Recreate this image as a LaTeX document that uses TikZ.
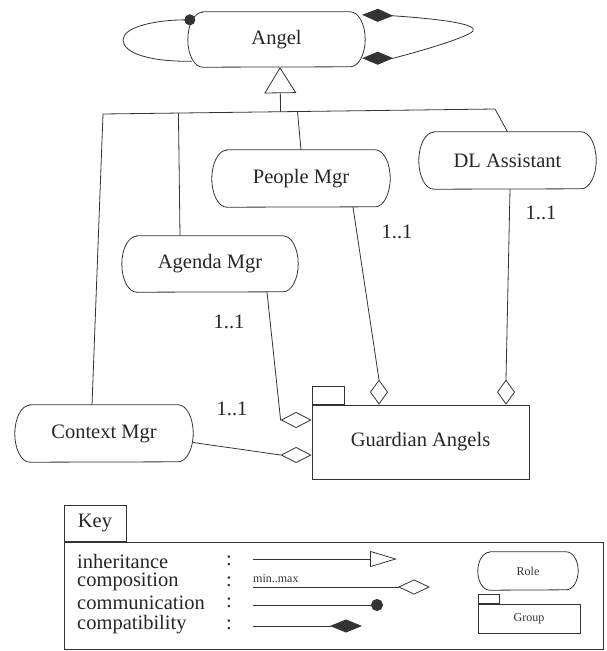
\documentclass[tikz,border=0pt]{standalone}
\usepackage{fontspec}
\setmainfont{Liberation Serif}
\usetikzlibrary{arrows.meta,calc}
\newcommand\roleoutline[3]{%
  \draw[ln] ($(#1.north west)+(#2,0)$) -- ($(#1.north east)+(-#2,0)$)
    arc[start angle=90,end angle=-90,x radius=#2pt,y radius=#3pt]
    -- ($(#1.south west)+(#2,0)$)
    arc[start angle=270,end angle=90,x radius=#2pt,y radius=#3pt] -- cycle;}
\begin{document}
\begin{tikzpicture}[x=1pt,y=-1pt,
  ln/.style={draw=black!80, line width=0.8pt},
  txt/.style={font=\fontsize{20.5}{22}\selectfont, text=black!85},
  tiny/.style={font=\fontsize{12}{13}\selectfont, text=black!80},
  rolenode/.style={txt, inner sep=0pt},
  grpnode/.style={ln, inner sep=0pt},
  opendia/.style={-{Diamond[open,length=#1,width=16pt]}},
]
\useasboundingbox (0,0) rectangle (607,651);

% roles
\node[rolenode, minimum width=177pt, minimum height=55pt] (angel) at (276.5,39.5) {Angel};
\node[rolenode, minimum width=177pt, minimum height=57pt] (dl) at (507.5,160.5) {DL Assistant};
\node[rolenode, minimum width=178pt, minimum height=57pt] (pm) at (301,178.5) {People Mgr};
\node[rolenode, minimum width=176pt, minimum height=56pt] (am) at (210,264) {Agenda Mgr};
\node[rolenode, minimum width=178pt, minimum height=57pt] (cm) at (104,433.5) {Context Mgr};
\roleoutline{angel}{15}{27.5}
\roleoutline{dl}{15}{28.5}
\roleoutline{pm}{15}{28.5}
\roleoutline{am}{15}{28}
\roleoutline{cm}{15}{28.5}

% group
\node[grpnode, txt, draw, minimum width=217pt, minimum height=74pt] (ga) at (420.5,442) {Guardian Angels};
\node[grpnode, draw, minimum width=32pt, minimum height=18pt, anchor=south west] (gatab) at (ga.north west) {};

% inheritance tree
\coordinate (jl) at (103,114);
\coordinate (jr) at (495,109);
\coordinate (amtop) at ($(am.north)+(-30,0)$);
\coordinate (pmj) at ($(pm.north)+(-3,0)$);
\coordinate (angj) at ($(angel.south)+(3.5,0)$);
\draw[ln] ($(cm.north)+(-12,0)$) -- (jl) -- (jr) -- (dl.north);
\draw[ln] (amtop) -- ($(jl)!(amtop)!(jr)$);
\draw[ln] (pm.north) -- ($(jl)!(pmj)!(jr)$);
\draw[ln,-{Triangle[open,length=26pt,width=32pt]}] ($(jl)!(angj)!(jr)$) -- (angj);

% compositions
\draw[ln,-{Diamond[open,length=25pt,width=18pt]}] ($(pm.south)+(52,0)$) -- ($(ga.north)+(-41.5,-25)$) -- ($(ga.north)+(-41.5,0)$);
\draw[ln,-{Diamond[open,length=25pt,width=18pt]}] ($(dl.south)+(2.5,0)$) -- ($(ga.north)+(85.5,-25)$) -- ($(ga.north)+(85.5,0)$);
\draw[ln,opendia=31pt] ($(am.south)+(57,0)$) -- ($(ga.west)+(-31,-22)$) -- ($(ga.west)+(0,-22)$);
\draw[ln,opendia=31pt] ($(cm.east)+(0,9)$) -- ($(ga.west)+(-31,13)$) -- ($(ga.west)+(0,13)$);

% multiplicities
\node[txt] (m1) at (397,232) {1..1};
\node[txt] (m2) at (541,213) {1..1};
\node[txt] (m3) at (229,322) {1..1};
\node[txt] (m4) at (232,409) {1..1};

% communication loop
\coordinate (lloop) at (123,40);
\draw[ln,-{Circle[length=11pt]}] ($(angel.south west)+(4,-6)$)
  .. controls (150,62) and (123,53) .. (lloop)
  .. controls (123,27) and (155,20) .. ($(angel.north west)+(7.5,8)$);

% compatibility loop
\coordinate (rloop) at (473,31);
\draw[ln,{Diamond[length=31pt,width=13pt]}-{Diamond[length=31pt,width=13pt]}]
  ($(angel.north east)+(-3,3)$) -- ($(angel.north east)+(28,4)$)
  .. controls (440,19) and (478,24) .. (rloop)
  .. controls (468,37) and (425,50) .. ($(angel.south east)+(28,-9)$)
  -- ($(angel.south east)+(-3,-9)$);

% key
\node[grpnode, draw, minimum width=539pt, minimum height=107pt] (keybox) at (333.5,595.5) {};
\node[grpnode, draw, txt, minimum width=62pt, minimum height=36pt, anchor=south west] (keytab) at (keybox.north west) {Key};

\node[txt, anchor=west, inner sep=0pt] (kt1) at (77,561) {inheritance};
\node[txt, anchor=west, inner sep=0pt] (kt2) at (77,582) {composition};
\node[txt, anchor=west, inner sep=0pt] (kt3) at (77,603) {communication};
\node[txt, anchor=west, inner sep=0pt] (kt4) at (77,625) {compatibility};
\node[txt, inner sep=0pt] (kc1) at (229,561) {:};
\node[txt, inner sep=0pt] (kc2) at (229,582) {:};
\node[txt, inner sep=0pt] (kc3) at (229,603) {:};
\node[txt, inner sep=0pt] (kc4) at (229,625) {:};

\coordinate (k1a) at (253,559); \coordinate (k1b) at (397,559);
\coordinate (k2a) at (253,587); \coordinate (k2b) at (430,587);
\coordinate (k3a) at (253,605); \coordinate (k3b) at (383,605);
\coordinate (k4a) at (253,626); \coordinate (k4b) at (362,626);
\draw[ln,-{Triangle[open,length=27pt,width=16pt]}] (k1a) -- (k1b);
\draw[ln,-{Diamond[open,length=32pt,width=15pt]}] (k2a) -- (k2b);
\draw[ln,-{Circle[length=12pt]}] (k3a) -- (k3b);
\draw[ln,-{Diamond[length=32pt,width=13pt]}] (k4a) -- (k4b);
\node[tiny, anchor=west, inner sep=0pt] (kmm) at (253,579) {min..max};

\node[rolenode, tiny, minimum width=100pt, minimum height=38pt] (krole) at (528,571) {Role};
\roleoutline{krole}{12}{19}
\node[grpnode, draw, tiny, minimum width=102pt, minimum height=29pt] (kgrp) at (529,618.5) {Group};
\node[grpnode, draw, minimum width=21pt, minimum height=9pt, anchor=south west] (kgtab) at (kgrp.north west) {};
\end{tikzpicture}
\end{document}
